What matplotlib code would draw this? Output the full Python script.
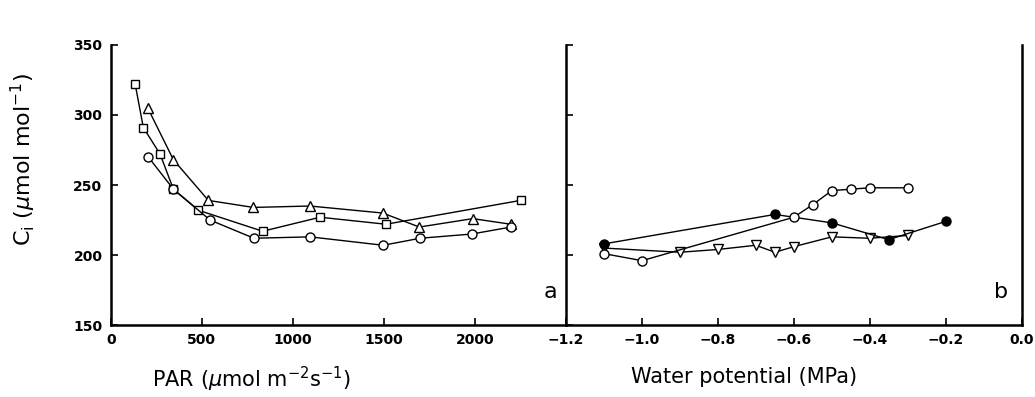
import matplotlib
matplotlib.use('Agg')
import matplotlib.pyplot as plt

# panel a: Ci vs PAR
par_sq = [134, 179, 271, 344, 481, 834, 1149, 1511, 2250]
ci_sq = [322, 291, 272, 247, 232, 217, 227, 222, 239]
par_tri = [203, 344, 536, 783, 1094, 1493, 1694, 1987, 2197]
ci_tri = [305, 268, 239, 234, 235, 230, 220, 226, 222]
par_circ = [206, 344, 545, 786, 1094, 1496, 1698, 1981, 2197]
ci_circ = [270, 247, 225, 212, 213, 207, 212, 215, 220]

# panel b: Ci vs water potential
wp_open = [-1.10, -1.00, -0.60, -0.55, -0.50, -0.45, -0.40, -0.30]
ci_open = [201, 196, 227, 236, 246, 247, 248, 248]
wp_fill = [-1.10, -0.65, -0.50, -0.35, -0.20]
ci_fill = [208, 229, 223, 211, 224]
wp_tri = [-1.10, -0.90, -0.80, -0.70, -0.65, -0.60, -0.50, -0.40, -0.30]
ci_tri_b = [205, 202, 204, 207, 202, 206, 213, 212, 214]

par_ticks = [0, 500, 1000, 1500, 2000]
wp_ticks = [-1.2, -1.0, -0.8, -0.6, -0.4, -0.2, 0.0]
wp_labels = ['\u22121.2', '\u22121.0', '\u22120.8', '\u22120.6', '\u22120.4', '\u22120.2', '0.0']
ci_ticks = [150, 200, 250, 300, 350]

plt.rcParams['font.family'] = ['DejaVu Sans']
plt.rcParams['mathtext.fontset'] = 'dejavusans'

fig = plt.figure(figsize=(10.35, 3.97), dpi=100)
ax1 = fig.add_axes([0.107, 0.181, 0.440, 0.706])
ax2 = fig.add_axes([0.547, 0.181, 0.440, 0.706])

mk = dict(color='black', lw=1.0, markersize=6.5, markeredgewidth=1.0)
ax1.plot(par_sq, ci_sq, marker='s', mfc='white', markersize=5.5, color='black', lw=1.0, markeredgewidth=1.0)
ax1.plot(par_tri, ci_tri, marker='^', mfc='white', **mk)
ax1.plot(par_circ, ci_circ, marker='o', mfc='white', **mk)

ax2.plot(wp_tri, ci_tri_b, marker='v', mfc='white', **mk)
ax2.plot(wp_fill, ci_fill, marker='o', mfc='black', **mk)
ax2.plot(wp_open, ci_open, marker='o', mfc='white', **mk)

for ax in (ax1, ax2):
    ax.set_ylim(150, 350)
    ax.spines['top'].set_visible(False)
    for s in ('left', 'right', 'bottom'):
        ax.spines[s].set_linewidth(1.8)
    ax.tick_params(direction='in', length=5, width=1.2, labelsize=10, pad=6)

ax1.set_xlim(0, 2500)
ax1.set_xticks(par_ticks)
ax1.set_xticklabels([str(t) for t in par_ticks], fontweight='bold')
ax1.set_yticks(ci_ticks)
ax1.set_yticklabels([str(t) for t in ci_ticks], fontweight='bold')
ax1.spines['right'].set_visible(False)
ax1.set_xlabel(r'PAR ($\mu$mol m$^{-2}$s$^{-1}$)', fontsize=15)
ax1.xaxis.set_label_coords(0.309, -0.14)
ax1.set_ylabel(r'C$_\mathregular{i}$ ($\mu$mol mol$^{-1}$)', fontsize=16)
ax1.yaxis.set_label_coords(-0.16, 0.59)
ax1.text(0.965, 0.12, 'a', transform=ax1.transAxes, fontsize=16, ha='center', va='center')

ax2.set_xlim(-1.2, 0.0)
ax2.set_xticks(wp_ticks)
ax2.set_xticklabels(wp_labels, fontweight='bold')
ax2.set_yticks(ci_ticks)
ax2.tick_params(axis='y', labelleft=False, right=False)
ax2.set_xlabel('Water potential (MPa)', fontsize=15)
ax2.xaxis.set_label_coords(0.39, -0.15)
ax2.text(0.955, 0.12, 'b', transform=ax2.transAxes, fontsize=16, ha='center', va='center')

fig.savefig('out.png', dpi=100)
